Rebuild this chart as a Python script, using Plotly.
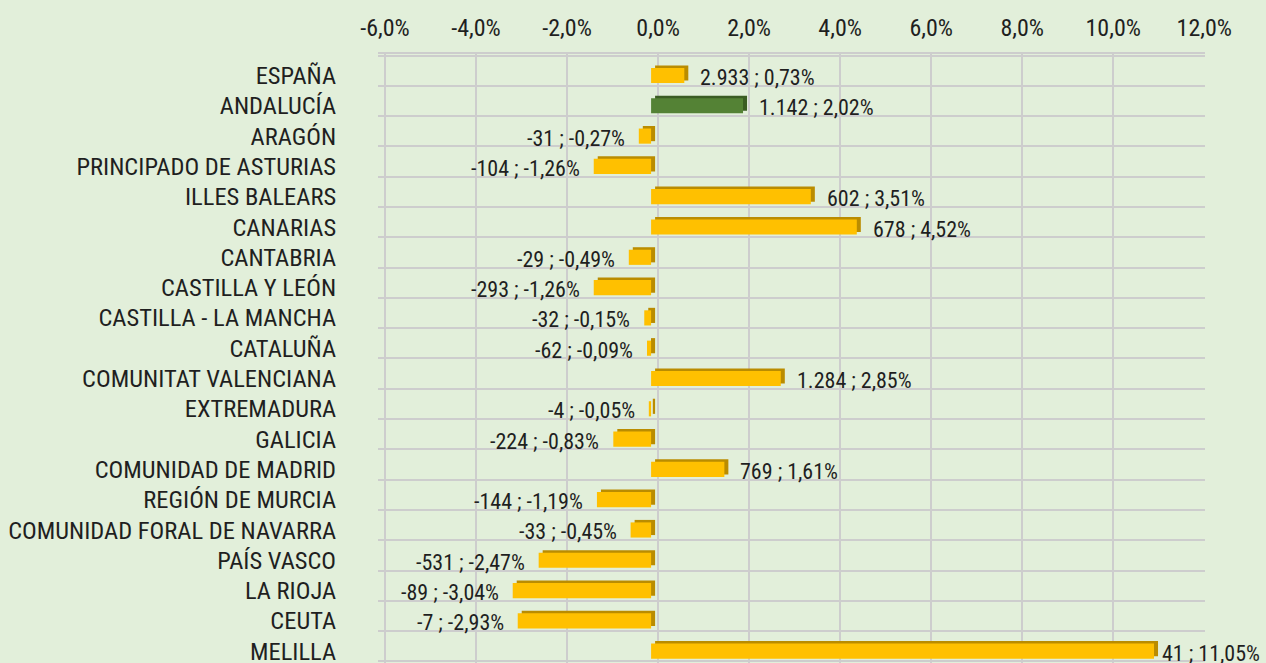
import plotly.graph_objects as go

# ---------------- data ----------------
regions = [
    "ESPAÑA", "ANDALUCÍA", "ARAGÓN", "PRINCIPADO DE ASTURIAS", "ILLES BALEARS",
    "CANARIAS", "CANTABRIA", "CASTILLA Y LEÓN", "CASTILLA - LA MANCHA", "CATALUÑA",
    "COMUNITAT VALENCIANA", "EXTREMADURA", "GALICIA", "COMUNIDAD DE MADRID",
    "REGIÓN DE MURCIA", "COMUNIDAD FORAL DE NAVARRA", "PAÍS VASCO", "LA RIOJA",
    "CEUTA", "MELILLA",
]
counts = [2933, 1142, -31, -104, 602, 678, -29, -293, -32, -62,
          1284, -4, -224, 769, -144, -33, -531, -89, -7, 41]
pcts = [0.73, 2.02, -0.27, -1.26, 3.51, 4.52, -0.49, -1.26, -0.15, -0.09,
        2.85, -0.05, -0.83, 1.61, -1.19, -0.45, -2.47, -3.04, -2.93, 11.05]
highlight = "ANDALUCÍA"
x_tick_values = [-6, -4, -2, 0, 2, 4, 6, 8, 10, 12]

# ---------------- helpers ----------------
def fmt_int(n):
    return f"{n:,}".replace(",", ".")

def fmt_pct(p, d=2):
    return f"{p:.{d}f}".replace(".", ",") + "%"

labels = [f"{fmt_int(c)} ; {fmt_pct(p)}" for c, p in zip(counts, pcts)]
idx = list(range(len(regions)))

# geometry (pixel scale of the chart)
PX_PER_PCT = 45.5
ROW_PX = 30.3
depth_x = 4 / PX_PER_PCT      # 3D depth shift to the right
depth_y = 2.5 / ROW_PX        # 3D depth shift upwards
wall_x = 7 / PX_PER_PCT       # back wall offset for gridlines

BG = "#E2EFDA"
GRID = "#CDCDCD"
FONT = "Liberation Sans Narrow, Arial Narrow, Roboto Condensed, sans-serif"
TXT = "#1f1f1f"

front_colors = ["#548235" if r == highlight else "#FFC000" for r in regions]
side_colors = ["#3A5C23" if r == highlight else "#BA8C00" for r in regions]

fig = go.Figure()

# depth (top/side faces) of the 3D bars
fig.add_trace(go.Bar(
    orientation="h", y=idx, x=pcts, base=depth_x,
    width=0.5, offset=-0.25 - depth_y,
    marker=dict(color=side_colors, line=dict(width=0)),
    hoverinfo="skip", showlegend=False,
))
# front faces
fig.add_trace(go.Bar(
    orientation="h", y=idx, x=pcts,
    width=0.5, offset=-0.25,
    marker=dict(color=front_colors, line=dict(width=0)),
    customdata=labels, hovertemplate="%{customdata}<extra></extra>",
    showlegend=False,
))

annotations = []
for i, (p, t) in enumerate(zip(pcts, labels)):
    if p >= 0:
        shift = 14 if p < 10 else 6
        annotations.append(dict(x=p, y=i, xref="x", yref="y", text=t, showarrow=False,
                                xanchor="left", xshift=shift, yshift=-2,
                                font=dict(family=FONT, size=22, color=TXT)))
    else:
        annotations.append(dict(x=p, y=i, xref="x", yref="y", text=t, showarrow=False,
                                xanchor="right", xshift=-12, yshift=-2,
                                font=dict(family=FONT, size=22, color=TXT)))

fig.update_layout(
    width=1266, height=663,
    margin=dict(l=378, r=61, t=54, b=0, autoexpand=False),
    paper_bgcolor=BG, plot_bgcolor=BG,
    barmode="overlay",
    annotations=annotations,
    font=dict(family=FONT, color=TXT),
    xaxis=dict(
        side="top", range=[-6, 12.17],
        tickvals=[v + wall_x for v in x_tick_values],
        ticktext=[fmt_pct(v, 1) for v in x_tick_values],
        showgrid=True, gridcolor=GRID, gridwidth=2,
        zeroline=False, showline=True, linecolor=GRID, linewidth=2,
        ticks="outside", ticklen=6, tickcolor="rgba(0,0,0,0)",
        tickfont=dict(family=FONT, size=24, color=TXT),
        fixedrange=True,
    ),
    yaxis=dict(
        range=[19.39, -0.7096],
        tickmode="array", tickvals=idx, ticktext=regions,
        ticklabeloverflow="allow",
        showgrid=False, zeroline=False, showline=False,
        ticks="outside", ticklen=36, tickcolor="rgba(0,0,0,0)",
        tickfont=dict(family=FONT, size=24.5, color=TXT),
        minor=dict(tickmode="array", tickvals=[k - 0.66 for k in range(0, 21)],
                   showgrid=True, gridcolor=GRID, gridwidth=2, ticks=""),
        fixedrange=True,
    ),
)

fig.write_html(
    "out.html",
    config={"displayModeBar": False},
    post_script="document.body.style.margin='0';document.body.style.background='%s';" % BG,
)
